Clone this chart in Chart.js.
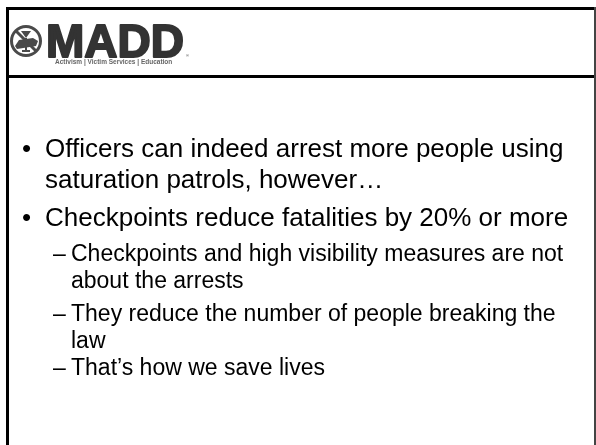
<!DOCTYPE html>
<html>
<head>
<meta charset="utf-8">
<script src="https://cdn.jsdelivr.net/npm/chart.js@4.4.0/dist/chart.umd.min.js"></script>
<style>
  html, body { margin: 0; padding: 0; background: #fff; }
  #slide { display: block; }
</style>
</head>
<body>
<canvas id="slide" width="596" height="445"></canvas>
<script>
// Texto de la diapositiva (cada línea tal y como se corta en el original)
const logoText = 'MADD';
const tagline = 'Activism | Victim Services | Education';
const bulletLines = [
  ['Officers can indeed arrest more people using', 'saturation patrols, however…'],
  ['Checkpoints reduce fatalities by 20% or more']
];
const subLines = [
  ['Checkpoints and high visibility measures are not', 'about the arrests'],
  ['They reduce the number of people breaking the', 'law'],
  ['That’s how we save lives']
];

// Plugin que dibuja la diapositiva sobre el área del gráfico
const slidePlugin = {
  id: 'slide',
  afterDraw(chart) {
    const c = chart.ctx;
    c.save();
    c.fillStyle = '#fff';
    c.fillRect(0, 0, chart.width, chart.height);

    // marco
    c.fillStyle = '#000';
    c.fillRect(6, 7, 590, 3);      // borde superior
    c.fillRect(6, 7, 3, 438);      // borde izquierdo
    c.fillRect(6, 75, 590, 3);     // separador de la cabecera
    c.fillStyle = '#444';
    c.fillRect(594, 7, 2, 438);    // borde derecho

    // icono del logo
    c.strokeStyle = '#4a4a4a';
    c.fillStyle = '#4a4a4a';
    c.lineWidth = 3;
    c.beginPath();
    c.arc(26, 41, 14.5, 0, Math.PI * 2);
    c.stroke();
    // copa
    c.lineWidth = 2;
    c.beginPath();
    c.moveTo(21, 31); c.lineTo(31, 31); c.lineTo(26, 38); c.closePath();
    c.fill();
    c.beginPath();
    c.moveTo(26, 38); c.lineTo(26, 50); c.moveTo(22, 51); c.lineTo(30, 51);
    c.stroke();
    // coche
    c.beginPath();
    c.moveTo(15, 46); c.lineTo(19, 40); c.lineTo(33, 38); c.lineTo(38, 41); c.lineTo(36, 46); c.lineTo(17, 49);
    c.closePath();
    c.fill();
    // barra diagonal
    c.lineWidth = 3;
    c.beginPath();
    c.moveTo(16, 31); c.lineTo(36, 51);
    c.stroke();

    // texto MADD
    c.fillStyle = '#333';
    c.strokeStyle = '#333';
    c.font = 'bold 46px "Liberation Sans", Arial, sans-serif';
    c.textBaseline = 'alphabetic';
    c.lineWidth = 2;
    c.lineJoin = 'round';
    c.fillText(logoText, 46, 57);
    c.strokeText(logoText, 46, 57);
    c.font = '4px "Liberation Sans", Arial, sans-serif';
    c.fillText('®', 186, 57);
    c.font = 'bold 6.5px "Liberation Sans", Arial, sans-serif';
    c.fillStyle = '#666';
    c.fillText(tagline, 55, 64);

    // viñetas principales
    c.fillStyle = '#000';
    const mainFont = '26px "Liberation Sans", Arial, sans-serif';
    const subFont = '23px "Liberation Sans", Arial, sans-serif';
    const mainY = [157, 226];
    bulletLines.forEach((lines, i) => {
      c.font = mainFont;
      c.fillText('•', 22, mainY[i]);
      lines.forEach((t, j) => c.fillText(t, 45, mainY[i] + j * 31));
    });

    // sub-viñetas
    const subY = [261, 321, 375];
    subLines.forEach((lines, i) => {
      c.font = subFont;
      c.fillText('–', 53, subY[i]);
      lines.forEach((t, j) => c.fillText(t, 71, subY[i] + j * 27));
    });
    c.restore();
  }
};

const ctx = document.getElementById('slide').getContext('2d');
const slideChart = new Chart(ctx, {
  type: 'scatter',
  data: { datasets: [] },
  options: {
    responsive: false,
    animation: false,
    events: [],
    layout: { padding: 0 },
    plugins: { legend: { display: false }, tooltip: { enabled: false } },
    scales: { x: { display: false }, y: { display: false } }
  },
  plugins: [slidePlugin]
});
</script>
</body>
</html>
